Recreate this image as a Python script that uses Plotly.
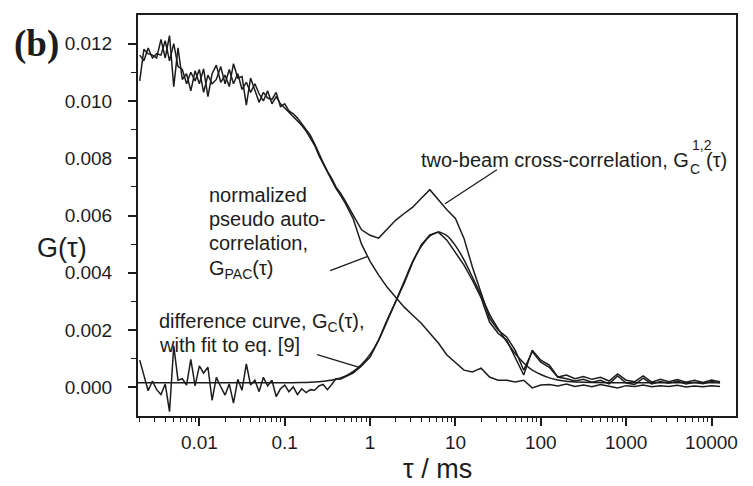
import plotly.graph_objects as go

# Lag times (ms) shared by the measured curves
tau = [
    0.00200, 0.00224, 0.00251, 0.00282, 0.00316, 0.00355, 0.00398, 0.00447, 0.00501, 0.00562,
    0.00631, 0.00708, 0.00794, 0.00891,
    0.0100, 0.0112, 0.0126, 0.0141, 0.0158, 0.0178, 0.0200, 0.0224, 0.0251, 0.0282,
    0.0316, 0.0355, 0.0398, 0.0447, 0.0501, 0.0562, 0.0631, 0.0708, 0.0794, 0.0891,
    0.100, 0.112, 0.126, 0.141, 0.158, 0.178, 0.200, 0.224, 0.251, 0.282,
    0.316, 0.355, 0.398, 0.447, 0.501,
    0.631, 0.794, 1.00, 1.26, 1.58, 2.00, 2.51, 3.16, 3.98, 5.01,
    6.31, 7.94, 10.0, 12.6, 15.8, 20.0, 25.1, 31.6, 39.8, 50.1,
    63.1, 79.4, 100, 126, 158, 200, 251, 316, 398, 501,
    631, 794, 1000, 1259, 1585, 1995, 2512, 3162, 3981, 5012,
    6310, 7943, 10000, 12589,
]

# Two-beam cross-correlation G_C^{1,2}(tau)
g_cross = [
    0.01070, 0.01180, 0.01165, 0.01160, 0.01150, 0.01215, 0.01150, 0.01228, 0.01050, 0.01185,
    0.01075, 0.01095, 0.01035, 0.01105,
    0.01060, 0.01112, 0.01015, 0.01095, 0.01125, 0.01065, 0.01090, 0.01050, 0.01130, 0.01080,
    0.01085, 0.00985, 0.01080, 0.01035, 0.00995, 0.01030, 0.01010, 0.01005, 0.01030, 0.00980,
    0.00990, 0.00965, 0.00955, 0.00940, 0.00920, 0.00900, 0.00880, 0.00850, 0.00815, 0.00785,
    0.00755, 0.00730, 0.00700, 0.00680, 0.00655,
    0.00600, 0.00550, 0.00531, 0.00521, 0.00552, 0.00584, 0.00607, 0.00629, 0.00660, 0.00690,
    0.00655, 0.00620, 0.00590, 0.00520, 0.00420, 0.00329, 0.00242, 0.00200, 0.00176, 0.00130,
    0.00060, 0.00125, 0.00088, 0.00070, 0.00036, 0.00043, 0.00030, 0.00038, 0.00028, 0.00035,
    0.00022, 0.00047, 0.00025, 0.00020, 0.00040, 0.00018, 0.00028, 0.00020, 0.00027, 0.00018,
    0.00025, 0.00017, 0.00026, 0.00020,
]

# Normalized pseudo auto-correlation G_PAC(tau)
g_pac = [
    0.01160, 0.01140, 0.01185, 0.01150, 0.01165, 0.01160, 0.01210, 0.01140, 0.01200, 0.01120,
    0.01110, 0.01060, 0.01100, 0.01070,
    0.01110, 0.01030, 0.01090, 0.01060, 0.01075, 0.01120, 0.01060, 0.01110, 0.01060, 0.01095,
    0.01040, 0.01065, 0.01030, 0.01060, 0.01025, 0.01000, 0.01035, 0.00990, 0.01015, 0.00990,
    0.00975, 0.00960, 0.00945, 0.00930, 0.00915, 0.00895, 0.00870, 0.00845, 0.00810, 0.00780,
    0.00750, 0.00725, 0.00695, 0.00672, 0.00648,
    0.00590, 0.00500, 0.00440, 0.00392, 0.00350, 0.00315, 0.00280, 0.00252, 0.00224, 0.00189,
    0.00155, 0.00113, 0.00088, 0.00060, 0.00054, 0.00067, 0.00036, 0.00025, 0.00025, 0.00019,
    0.00025, -0.00002, 0.00008, 0.00010, 0.00005, 0.00012, 0.00003, 0.00008, 0.00002, 0.00010,
    0.00004, -0.00002, 0.00006, 0.00003, 0.00008, 0.00002, 0.00006, 0.00003, 0.00007, 0.00001,
    0.00005, 0.00002, 0.00006, 0.00003,
]

# Difference curve G_C(tau)
g_diff = [
    0.00095, 0.00045, -0.00012, 0.00022, -0.00008, -0.00025, 0.00012, -0.00085, 0.00145, 0.00025,
    0.00030, 0.00008, 0.00098, 0.00005,
    0.00075, 0.00050, 0.00070, -0.00045, 0.00035, 0.00002, -0.00027, 0.00012, -0.00055, 0.00028,
    -0.00010, 0.00082, 0.00008, 0.00025, -0.00015, 0.00035, 0.00005, 0.00025, -0.00032, -0.00005,
    0.00008, -0.00015, 0.00002, -0.00025, -0.00005, -0.00018, -0.00008, -0.00010, 0.00005, 0.00010,
    -0.00008, 0.00010, 0.00030, 0.00028, 0.00035,
    0.00050, 0.00075, 0.00106, 0.00165, 0.00235, 0.00300, 0.00364, 0.00437, 0.00497, 0.00532,
    0.00542, 0.00514, 0.00472, 0.00427, 0.00374, 0.00312, 0.00228, 0.00189, 0.00165, 0.00106,
    0.00043, 0.00130, 0.00095, 0.00078, 0.00036, 0.00030, 0.00022, 0.00028, 0.00018, 0.00025,
    0.00012, 0.00040, 0.00015, 0.00010, 0.00032, 0.00012, 0.00020, 0.00014, 0.00022, 0.00012,
    0.00018, 0.00013, 0.00020, 0.00016,
]

# Fit of the difference curve to eq. [9]
fit_tau = [
    0.0019, 0.01, 0.1, 0.158, 0.200, 0.251, 0.316, 0.398, 0.501, 0.631,
    0.794, 1.00, 1.26, 1.58, 2.00, 2.51, 3.16, 3.98, 5.01, 6.31,
    7.94, 10.0, 12.6, 15.8, 20.0, 25.1, 31.6, 39.8, 50.1, 63.1,
    79.4, 100, 126, 158, 200, 251, 398, 1000, 12589,
]
fit_g = [
    0.00016, 0.00016, 0.00016, 0.00017, 0.00018, 0.00020, 0.00023, 0.00028, 0.00038, 0.00055,
    0.00080, 0.00115, 0.00165, 0.00230, 0.00300, 0.00370, 0.00440, 0.00492, 0.00528, 0.00542,
    0.00530, 0.00495, 0.00445, 0.00385, 0.00320, 0.00255, 0.00205, 0.00160, 0.00118, 0.00085,
    0.00060, 0.00045, 0.00033, 0.00026, 0.00021, 0.00019, 0.00017, 0.00016, 0.00016,
]

x_tick_vals = [0.01, 0.1, 1, 10, 100, 1000, 10000]
x_tick_text = ["0.01", "0.1", "1", "10", "100", "1000", "10000"]
y_tick_vals = [0.000, 0.002, 0.004, 0.006, 0.008, 0.010, 0.012]
y_tick_text = ["0.000", "0.002", "0.004", "0.006", "0.008", "0.010", "0.012"]

INK = "#1c1c1c"
SANS = "Liberation Sans, Arial, sans-serif"
SERIF = "Liberation Serif, Times New Roman, serif"

# plot-area geometry in pixels
W, H = 753, 486
L, R, T, B = 137.5, 736.5, 15, 416.5


def fx(p):
    return (p - L) / (R - L)


def fy(p):
    return (B - p) / (B - T)


fig = go.Figure()
line = dict(color=INK, width=1.5)
fig.add_trace(go.Scatter(x=tau, y=g_pac, mode="lines", line=line))
fig.add_trace(go.Scatter(x=tau, y=g_cross, mode="lines", line=line))
fig.add_trace(go.Scatter(x=tau, y=g_diff, mode="lines", line=line))
fig.add_trace(go.Scatter(x=fit_tau, y=fit_g, mode="lines",
                         line=dict(color=INK, width=1.5, shape="spline", smoothing=0.6)))

x_minor = [m * 10 ** e for e in range(-3, 5) for m in range(2, 10)
           if 0.0019 < m * 10 ** e < 19000]
y_minor = [0.001, 0.003, 0.005, 0.007, 0.009, 0.011]

fig.update_xaxes(
    type="log", range=[-2.719, 4.287],
    tickmode="array", tickvals=x_tick_vals, ticktext=x_tick_text,
    ticks="outside", ticklen=8, tickwidth=1.5, tickcolor=INK,
    minor=dict(tickmode="array", tickvals=x_minor, ticks="outside",
               ticklen=4, tickwidth=1.2, tickcolor=INK, showgrid=False),
    showline=True, linewidth=2, linecolor=INK, mirror=True,
    showgrid=False, zeroline=False,
    tickfont=dict(family=SANS, size=19, color=INK),
)
fig.update_yaxes(
    range=[-0.001, 0.013],
    tickmode="array", tickvals=y_tick_vals, ticktext=y_tick_text,
    ticks="outside", ticklen=8, tickwidth=1.5, tickcolor=INK,
    minor=dict(tickmode="array", tickvals=y_minor, ticks="outside",
               ticklen=5, tickwidth=1.2, tickcolor=INK, showgrid=False),
    showline=True, linewidth=2, linecolor=INK, mirror=True,
    showgrid=False, zeroline=False, ticklabelstandoff=12,
    tickfont=dict(family=SANS, size=19, color=INK),
)


def label(text, x, y, size=20, family=SANS, xanchor="left"):
    fig.add_annotation(text=text, x=fx(x), y=fy(y), xref="paper", yref="paper",
                       xanchor=xanchor, yanchor="middle", showarrow=False,
                       font=dict(family=family, size=size, color=INK))


def leader(x0, y0, x1, y1):
    fig.add_shape(type="line", xref="paper", yref="paper",
                  x0=fx(x0), y0=fy(y0), x1=fx(x1), y1=fy(y1),
                  line=dict(color=INK, width=1.3))


label("<b>(b)</b>", 36, 44, size=37, family=SERIF, xanchor="center")
label("G(τ)", 61, 248, size=27, xanchor="center")
label("τ / ms", 437, 470, size=27, xanchor="center")

label("two-beam cross-correlation, G", 419, 160)
label("C", 688, 169, size=14)
label("1,2", 690, 145, size=14)
label("(τ)", 704, 160)

label("normalized", 207, 195)
label("pseudo auto-", 207, 219)
label("correlation,", 207, 243)
label("G<sub>PAC</sub>(τ)", 207, 270)

label("difference curve, G<sub>C</sub>(τ),", 157, 323)
label("with fit to eq. [9]", 157, 345)

leader(497, 170, 445, 204)
leader(330, 271, 367, 257)
leader(317, 355, 360, 368)

fig.update_layout(
    width=W, height=H, autosize=False,
    margin=dict(l=L, r=W - R, t=T, b=H - B, pad=0),
    paper_bgcolor="white", plot_bgcolor="white",
    showlegend=False,
)

fig.write_html("out.html")
